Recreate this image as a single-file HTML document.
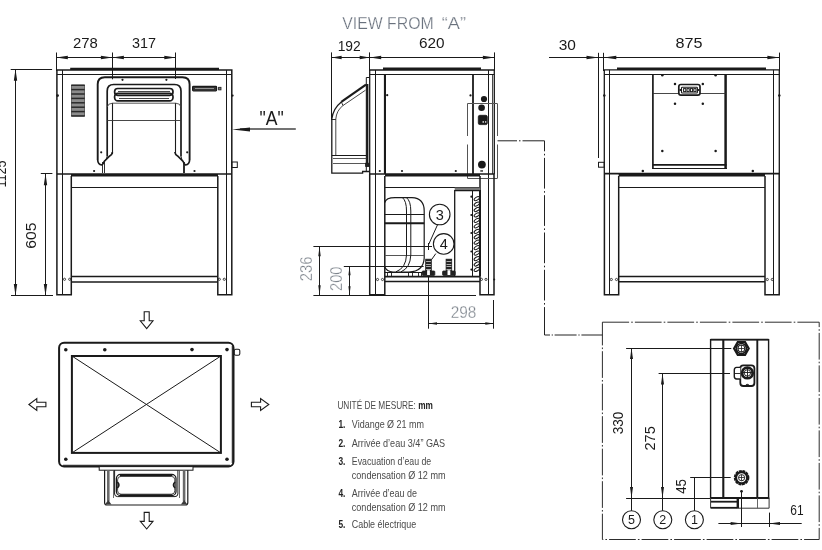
<!DOCTYPE html>
<html><head><meta charset="utf-8"><title>Dimensions</title>
<style>
html,body{margin:0;padding:0;background:#fff;}
body{width:822px;height:550px;overflow:hidden;}
svg{display:block;will-change:transform;}
svg text{font-family:"Liberation Sans",sans-serif;}
</style></head><body>
<svg width="822" height="550" viewBox="0 0 822 550">
<rect width="822" height="550" fill="#fff"/>
<g id="front">
<line x1="56.5" y1="52.5" x2="56.5" y2="71" stroke="#1a1a1a" stroke-width="1" />
<line x1="112.5" y1="52.5" x2="112.5" y2="79.3" stroke="#1a1a1a" stroke-width="1" />
<line x1="175.5" y1="52.5" x2="175.5" y2="79" stroke="#1a1a1a" stroke-width="1" />
<line x1="56.3" y1="57.5" x2="175.8" y2="57.5" stroke="#1a1a1a" stroke-width="1" />
<polygon points="56.3,57.5 67.8,55.8 67.8,59.2" fill="#1a1a1a"/>
<polygon points="112.4,57.5 100.9,59.2 100.9,55.8" fill="#1a1a1a"/>
<polygon points="112.4,57.5 123.9,55.8 123.9,59.2" fill="#1a1a1a"/>
<polygon points="175.8,57.5 164.3,59.2 164.3,55.8" fill="#1a1a1a"/>
<text x="85.3" y="48" font-size="15" fill="#1a1a1a" text-anchor="middle" font-weight="normal" textLength="24.8" lengthAdjust="spacingAndGlyphs" >278</text>
<text x="144" y="48" font-size="15" fill="#1a1a1a" text-anchor="middle" font-weight="normal" textLength="24" lengthAdjust="spacingAndGlyphs" >317</text>
<line x1="70.2" y1="68.9" x2="219" y2="68.9" stroke="#1a1a1a" stroke-width="2.3" />
<path d="M56.9,174 V70.1 H231.8 V174" fill="none" stroke="#1a1a1a" stroke-width="1.5" />
<line x1="56.9" y1="74.5" x2="231.8" y2="74.5" stroke="#1a1a1a" stroke-width="1.1" />
<line x1="62.5" y1="70.1" x2="62.5" y2="294.8" stroke="#1a1a1a" stroke-width="1" />
<line x1="226.5" y1="70.1" x2="226.5" y2="294.8" stroke="#1a1a1a" stroke-width="1" />
<rect x="71.3" y="85.2" width="13.4" height="30.8" rx="0" fill="#8c8c8c" stroke="#333" stroke-width="0.6"/>
<line x1="71.3" y1="85.2" x2="84.7" y2="85.2" stroke="#2a2a2a" stroke-width="1.5" />
<line x1="71.3" y1="89.6" x2="84.7" y2="89.6" stroke="#2a2a2a" stroke-width="1.5" />
<line x1="71.3" y1="94.0" x2="84.7" y2="94.0" stroke="#2a2a2a" stroke-width="1.5" />
<line x1="71.3" y1="98.4" x2="84.7" y2="98.4" stroke="#2a2a2a" stroke-width="1.5" />
<line x1="71.3" y1="102.8" x2="84.7" y2="102.8" stroke="#2a2a2a" stroke-width="1.5" />
<line x1="71.3" y1="107.2" x2="84.7" y2="107.2" stroke="#2a2a2a" stroke-width="1.5" />
<line x1="71.3" y1="111.6" x2="84.7" y2="111.6" stroke="#2a2a2a" stroke-width="1.5" />
<line x1="71.3" y1="116.0" x2="84.7" y2="116.0" stroke="#2a2a2a" stroke-width="1.5" />
<circle cx="57.6" cy="95.6" r="1.4" fill="#1a1a1a"/>
<circle cx="232.6" cy="95.6" r="1.1" fill="#1a1a1a"/>
<path d="M97.7,160 V84.3 Q97.7,77.2 104.8,77.2 H182.5 Q189.6,77.2 189.6,84.3 V160" fill="none" stroke="#1a1a1a" stroke-width="1.9" />
<path d="M97.7,160 Q97.9,164.6 101.8,165 Q103.4,164.4 104.2,161.4 L109.7,156 Q112.2,154.8 112.4,152" fill="none" stroke="#1a1a1a" stroke-width="1.7" />
<path d="M189.6,160 Q189.4,164.6 185.5,165 Q183.9,164.4 183.1,161.4 L177.6,156 Q175.1,154.8 174.9,152" fill="none" stroke="#1a1a1a" stroke-width="1.7" />
<path d="M107.2,156.5 V91 Q107.2,84.5 113.7,84.5 H174.5 Q181,84.5 181,91 V156.5" fill="none" stroke="#1a1a1a" stroke-width="1.7" />
<path d="M107.2,156.5 Q106.5,160 104.4,161.2" fill="none" stroke="#1a1a1a" stroke-width="1" />
<path d="M181,156.5 Q181.7,160 183,161.2" fill="none" stroke="#1a1a1a" stroke-width="1" />
<path d="M107.2,107 Q108,103.3 112.4,103.2 H175.8 Q180.2,103.3 181,107" fill="none" stroke="#444" stroke-width="0.9" />
<line x1="112.5" y1="103.2" x2="112.5" y2="154" stroke="#1a1a1a" stroke-width="1.1" />
<line x1="175.5" y1="103.2" x2="175.5" y2="154" stroke="#1a1a1a" stroke-width="1.1" />
<line x1="107.2" y1="120.5" x2="181" y2="120.5" stroke="#333" stroke-width="0.9" />
<rect x="114.6" y="88.5" width="58.4" height="6.8" rx="3.2" fill="none" stroke="#1a1a1a" stroke-width="1.7"/>
<rect x="114.6" y="93.4" width="58.4" height="7.5" rx="3.4" fill="none" stroke="#1a1a1a" stroke-width="1.7"/>
<line x1="118" y1="91.5" x2="170" y2="91.5" stroke="#333" stroke-width="0.9" />
<line x1="119" y1="98.5" x2="169" y2="98.5" stroke="#444" stroke-width="1" />
<circle cx="122.5" cy="79.8" r="1.1" fill="#1a1a1a"/>
<circle cx="166.4" cy="79.8" r="1.1" fill="#1a1a1a"/>
<rect x="192.6" y="86.4" width="24.0" height="4.4" rx="0.8" fill="#333" stroke="#1a1a1a" stroke-width="1.2"/>
<line x1="195" y1="88.5" x2="214" y2="88.5" stroke="#bbb" stroke-width="0.7" />
<rect x="218.6" y="87.3" width="2.4" height="2.6" rx="0" fill="#777" stroke="#1a1a1a" stroke-width="0.8"/>
<line x1="102.5" y1="162" x2="102.5" y2="173" stroke="#1a1a1a" stroke-width="0.9" />
<line x1="104.5" y1="162" x2="104.5" y2="173" stroke="#1a1a1a" stroke-width="0.9" />
<line x1="183.5" y1="162" x2="183.5" y2="173" stroke="#1a1a1a" stroke-width="0.9" />
<line x1="184.5" y1="162" x2="184.5" y2="173" stroke="#1a1a1a" stroke-width="0.9" />
<rect x="231.8" y="162" width="5.5" height="5.5" rx="0" fill="none" stroke="#1a1a1a" stroke-width="1"/>
<circle cx="101.2" cy="152.3" r="1.1" fill="#1a1a1a"/>
<circle cx="187.2" cy="152.3" r="1.1" fill="#1a1a1a"/>
<circle cx="94.1" cy="171" r="1.1" fill="#1a1a1a"/>
<circle cx="194.5" cy="171" r="1.1" fill="#1a1a1a"/>
<line x1="56.9" y1="174" x2="231.8" y2="174" stroke="#1a1a1a" stroke-width="1.6" />
<line x1="71" y1="175.2" x2="218" y2="175.2" stroke="#1a1a1a" stroke-width="2.6" />
<path d="M56.9,174 V294.8 H71.3 V176" fill="none" stroke="#1a1a1a" stroke-width="1.5" />
<path d="M217.8,176 V294.8 H231.8 V174" fill="none" stroke="#1a1a1a" stroke-width="1.5" />
<line x1="71.3" y1="187.5" x2="217.8" y2="187.5" stroke="#1a1a1a" stroke-width="1.2" />
<line x1="71.3" y1="276.5" x2="217.8" y2="276.5" stroke="#1a1a1a" stroke-width="1.4" />
<line x1="71.3" y1="282" x2="217.8" y2="282" stroke="#1a1a1a" stroke-width="1.4" />
<circle cx="64.5" cy="279.3" r="1.1" fill="none" stroke="#1a1a1a" stroke-width="0.8"/>
<circle cx="69.7" cy="279.3" r="1.1" fill="none" stroke="#1a1a1a" stroke-width="0.8"/>
<circle cx="219.3" cy="279.3" r="1.1" fill="none" stroke="#1a1a1a" stroke-width="0.8"/>
<circle cx="224.3" cy="279.3" r="1.1" fill="none" stroke="#1a1a1a" stroke-width="0.8"/>
</g>
<g id="ldims">
<line x1="10.7" y1="69.5" x2="52.1" y2="69.5" stroke="#1a1a1a" stroke-width="1" />
<line x1="11" y1="295.5" x2="53" y2="295.5" stroke="#1a1a1a" stroke-width="1" />
<line x1="15.5" y1="69.2" x2="15.5" y2="295.4" stroke="#1a1a1a" stroke-width="1" />
<polygon points="15.5,69.2 17.2,80.7 13.8,80.7" fill="#1a1a1a"/>
<polygon points="15.5,295.4 13.8,283.9 17.2,283.9" fill="#1a1a1a"/>
<line x1="40.8" y1="173.5" x2="52.4" y2="173.5" stroke="#1a1a1a" stroke-width="1" />
<line x1="45.5" y1="173.8" x2="45.5" y2="295.4" stroke="#1a1a1a" stroke-width="1" />
<polygon points="45.5,173.8 47.2,185.3 43.8,185.3" fill="#1a1a1a"/>
<polygon points="45.5,295.4 43.8,283.9 47.2,283.9" fill="#1a1a1a"/>
<text x="6.3" y="174" font-size="15" fill="#1a1a1a" text-anchor="middle" font-weight="normal" textLength="27" lengthAdjust="spacingAndGlyphs" transform="rotate(-90 6.3 174)" >1125</text>
<text x="36.5" y="235.6" font-size="15.5" fill="#1a1a1a" text-anchor="middle" font-weight="normal" textLength="26.2" lengthAdjust="spacingAndGlyphs" transform="rotate(-90 36.5 235.6)" >605</text>
</g>
<line x1="240" y1="129" x2="295.8" y2="129" stroke="#444" stroke-width="1.5" />
<polygon points="232,129.5 250.0,127.4 250.0,131.6" fill="#1a1a1a"/>
<text x="271.6" y="124.6" font-size="19.5" fill="#1a1a1a" text-anchor="middle" font-weight="normal" textLength="24.2" lengthAdjust="spacingAndGlyphs" >"A"</text>
<g id="side">
<text x="342.3" y="28.7" font-size="16.3" fill="#69717d" text-anchor="start" font-weight="normal" textLength="91.4" lengthAdjust="spacingAndGlyphs" stroke="#fff" stroke-width="0.25" >VIEW FROM</text>
<text x="441.8" y="28.7" font-size="16.3" fill="#69717d" text-anchor="start" font-weight="normal" textLength="24.2" lengthAdjust="spacingAndGlyphs" stroke="#fff" stroke-width="0.25" >“A”</text>
<line x1="331.5" y1="52.4" x2="331.5" y2="120" stroke="#1a1a1a" stroke-width="1" />
<line x1="369.5" y1="52.4" x2="369.5" y2="71" stroke="#1a1a1a" stroke-width="1" />
<line x1="494.5" y1="52.4" x2="494.5" y2="71" stroke="#1a1a1a" stroke-width="1" />
<line x1="331.6" y1="57.5" x2="494.4" y2="57.5" stroke="#1a1a1a" stroke-width="1" />
<polygon points="331.6,57.5 341.6,55.8 341.6,59.2" fill="#1a1a1a"/>
<polygon points="369.7,57.5 359.7,59.2 359.7,55.8" fill="#1a1a1a"/>
<polygon points="369.7,57.5 381.2,55.8 381.2,59.2" fill="#1a1a1a"/>
<polygon points="494.4,57.5 482.9,59.2 482.9,55.8" fill="#1a1a1a"/>
<text x="349.2" y="50.5" font-size="14.5" fill="#1a1a1a" text-anchor="middle" font-weight="normal" textLength="23.1" lengthAdjust="spacingAndGlyphs" >192</text>
<text x="431.7" y="48.1" font-size="15" fill="#1a1a1a" text-anchor="middle" font-weight="normal" textLength="25.6" lengthAdjust="spacingAndGlyphs" >620</text>
<line x1="383" y1="68.7" x2="481" y2="68.7" stroke="#1a1a1a" stroke-width="2.4" />
<path d="M369.7,174 V70 H494.3 V174" fill="none" stroke="#1a1a1a" stroke-width="1.3" />
<line x1="369.7" y1="74.5" x2="494.3" y2="74.5" stroke="#1a1a1a" stroke-width="1" />
<line x1="375.5" y1="70" x2="375.5" y2="294.8" stroke="#1a1a1a" stroke-width="1" />
<line x1="488.5" y1="70" x2="488.5" y2="294.8" stroke="#1a1a1a" stroke-width="1" />
<line x1="384.5" y1="74.2" x2="384.5" y2="174" stroke="#1a1a1a" stroke-width="1.2" />
<line x1="385.5" y1="74.2" x2="385.5" y2="174" stroke="#1a1a1a" stroke-width="1" />
<line x1="473" y1="74.2" x2="473" y2="174" stroke="#1a1a1a" stroke-width="1.8" />
<line x1="492.5" y1="74" x2="492.5" y2="174" stroke="#1a1a1a" stroke-width="0.8" />
<path d="M369.7,77.5 H366.3 V171.5" fill="none" stroke="#1a1a1a" stroke-width="1" />
<line x1="367.3" y1="84" x2="367.3" y2="164" stroke="#1a1a1a" stroke-width="2.2" />
<path d="M366,84.6 L341.3,101.9" fill="none" stroke="#1a1a1a" stroke-width="2.2" />
<path d="M341.3,101.9 Q333,108.5 331.8,119 V173.1 H362.6 V171.5 H369.7" fill="none" stroke="#1a1a1a" stroke-width="1.3" />
<path d="M365.5,90.2 L343,105.5 Q336.5,110.5 335.8,119 V155.6" fill="none" stroke="#333" stroke-width="0.9" />
<line x1="341.3" y1="101.9" x2="343" y2="105.5" stroke="#1a1a1a" stroke-width="0.9" />
<line x1="331.8" y1="119.5" x2="335.8" y2="119.5" stroke="#1a1a1a" stroke-width="0.9" />
<line x1="331.8" y1="155.5" x2="366.3" y2="155.5" stroke="#1a1a1a" stroke-width="1.2" />
<line x1="333" y1="158.5" x2="366.3" y2="158.5" stroke="#444" stroke-width="0.9" />
<line x1="333" y1="163.5" x2="366.3" y2="163.5" stroke="#444" stroke-width="0.9" />
<rect x="365.6" y="163.2" width="3.6" height="3.4" rx="0" fill="#222" stroke="#1a1a1a" stroke-width="0.8"/>
<circle cx="387.2" cy="95.2" r="1.1" fill="#1a1a1a"/>
<circle cx="470.5" cy="95.4" r="1.1" fill="#1a1a1a"/>
<circle cx="379.8" cy="171" r="1.1" fill="#1a1a1a"/>
<circle cx="402" cy="171" r="1.1" fill="#1a1a1a"/>
<circle cx="455.8" cy="171" r="1.1" fill="#1a1a1a"/>
<circle cx="484" cy="99" r="3.1" fill="#1a1a1a"/>
<circle cx="481.6" cy="107.7" r="3.3" fill="#1a1a1a"/>
<rect x="478.3" y="115.3" width="9.0" height="9.3" rx="1.5" fill="#1a1a1a" stroke="#1a1a1a" stroke-width="0.8"/>
<rect x="482.5" y="121.3" width="1.5" height="1.3" rx="0" fill="#fff" stroke="none" stroke-width="0"/>
<rect x="485" y="121.3" width="1.3" height="1.3" rx="0" fill="#fff" stroke="none" stroke-width="0"/>
<circle cx="481.9" cy="164.6" r="3.9" fill="#1a1a1a"/>
<rect x="480.3" y="170.3" width="2.7" height="1.3" rx="0" fill="#1a1a1a" stroke="none" stroke-width="0"/>
<line x1="467.5" y1="103.5" x2="467.5" y2="136" stroke="#555" stroke-width="1" />
<line x1="467.5" y1="144.5" x2="467.5" y2="178.4" stroke="#555" stroke-width="1" />
<line x1="497.5" y1="103.5" x2="497.5" y2="136" stroke="#555" stroke-width="1" />
<line x1="497.5" y1="144.5" x2="497.5" y2="178.4" stroke="#555" stroke-width="1" />
<line x1="467.5" y1="103.5" x2="497.3" y2="103.5" stroke="#555" stroke-width="1" />
<line x1="467.5" y1="178.5" x2="497.3" y2="178.5" stroke="#555" stroke-width="1" />
<line x1="369.7" y1="174" x2="494.3" y2="174" stroke="#1a1a1a" stroke-width="1.6" />
<line x1="385" y1="175.2" x2="480" y2="175.2" stroke="#1a1a1a" stroke-width="2.6" />
<path d="M369.7,174 V294.8 H384.8 V176" fill="none" stroke="#1a1a1a" stroke-width="1.5" />
<path d="M480,176 V294.8 H494 V174" fill="none" stroke="#1a1a1a" stroke-width="1.5" />
<line x1="384.8" y1="187.5" x2="480" y2="187.5" stroke="#1a1a1a" stroke-width="1.2" />
<line x1="384.8" y1="276.6" x2="480" y2="276.6" stroke="#1a1a1a" stroke-width="1.8" />
<line x1="384.8" y1="281.5" x2="480" y2="281.5" stroke="#1a1a1a" stroke-width="1.3" />
<path d="M384.8,202.5 Q386,197.7 395,197.7 H412 Q424.2,198.2 424.2,211 V258 Q423.5,271.5 409,272 H393 Q386.5,271.5 384.8,267" fill="none" stroke="#1a1a1a" stroke-width="1.2" />
<line x1="384.8" y1="214.5" x2="424.2" y2="214.5" stroke="#1a1a1a" stroke-width="1.1" />
<line x1="384.8" y1="223.2" x2="424.2" y2="223.2" stroke="#1a1a1a" stroke-width="2" />
<line x1="384.8" y1="255.5" x2="424.2" y2="255.5" stroke="#555" stroke-width="1" />
<path d="M402.5,197.7 Q406.5,201 406.5,211 V255 Q406,268 396,271.8" fill="none" stroke="#1a1a1a" stroke-width="1" />
<path d="M406.5,197.7 Q410.8,201 410.8,211 V255 Q410.3,268 401,271.8" fill="none" stroke="#1a1a1a" stroke-width="1" />
<line x1="384.8" y1="272.5" x2="424" y2="272.5" stroke="#1a1a1a" stroke-width="1" />
<line x1="387.5" y1="272.3" x2="387.5" y2="276" stroke="#1a1a1a" stroke-width="0.9" />
<line x1="391.5" y1="272.3" x2="391.5" y2="276" stroke="#1a1a1a" stroke-width="0.9" />
<line x1="408.5" y1="272.3" x2="408.5" y2="276" stroke="#1a1a1a" stroke-width="0.9" />
<line x1="412.5" y1="272.3" x2="412.5" y2="276" stroke="#1a1a1a" stroke-width="0.9" />
<line x1="418.5" y1="272.3" x2="418.5" y2="276" stroke="#1a1a1a" stroke-width="0.9" />
<line x1="421.5" y1="272.3" x2="421.5" y2="276" stroke="#1a1a1a" stroke-width="0.9" />
<rect x="454.7" y="187.5" width="25.3" height="3.1" rx="0" fill="#777" stroke="none" stroke-width="0"/>
<path d="M454.7,276.3 V190.6 H480" fill="none" stroke="#1a1a1a" stroke-width="1.3" />
<line x1="472.5" y1="190.6" x2="472.5" y2="276.3" stroke="#1a1a1a" stroke-width="1" />
<ellipse cx="476.8" cy="198.6" rx="3" ry="1.5" transform="rotate(-32 476.8 198.6)" fill="none" stroke="#1a1a1a" stroke-width="1"/>
<ellipse cx="476.8" cy="204.05" rx="3" ry="1.5" transform="rotate(-32 476.8 204.05)" fill="none" stroke="#1a1a1a" stroke-width="1"/>
<ellipse cx="476.8" cy="209.5" rx="3" ry="1.5" transform="rotate(-32 476.8 209.5)" fill="none" stroke="#1a1a1a" stroke-width="1"/>
<ellipse cx="476.8" cy="214.95" rx="3" ry="1.5" transform="rotate(-32 476.8 214.95)" fill="none" stroke="#1a1a1a" stroke-width="1"/>
<ellipse cx="476.8" cy="220.4" rx="3" ry="1.5" transform="rotate(-32 476.8 220.4)" fill="none" stroke="#1a1a1a" stroke-width="1"/>
<ellipse cx="476.8" cy="225.85" rx="3" ry="1.5" transform="rotate(-32 476.8 225.85)" fill="none" stroke="#1a1a1a" stroke-width="1"/>
<ellipse cx="476.8" cy="231.3" rx="3" ry="1.5" transform="rotate(-32 476.8 231.3)" fill="none" stroke="#1a1a1a" stroke-width="1"/>
<ellipse cx="476.8" cy="236.75" rx="3" ry="1.5" transform="rotate(-32 476.8 236.75)" fill="none" stroke="#1a1a1a" stroke-width="1"/>
<ellipse cx="476.8" cy="242.2" rx="3" ry="1.5" transform="rotate(-32 476.8 242.2)" fill="none" stroke="#1a1a1a" stroke-width="1"/>
<ellipse cx="476.8" cy="247.65" rx="3" ry="1.5" transform="rotate(-32 476.8 247.65)" fill="none" stroke="#1a1a1a" stroke-width="1"/>
<ellipse cx="476.8" cy="253.1" rx="3" ry="1.5" transform="rotate(-32 476.8 253.1)" fill="none" stroke="#1a1a1a" stroke-width="1"/>
<ellipse cx="476.8" cy="258.55" rx="3" ry="1.5" transform="rotate(-32 476.8 258.55)" fill="none" stroke="#1a1a1a" stroke-width="1"/>
<ellipse cx="476.8" cy="264.0" rx="3" ry="1.5" transform="rotate(-32 476.8 264.0)" fill="none" stroke="#1a1a1a" stroke-width="1"/>
<ellipse cx="476.8" cy="269.45" rx="3" ry="1.5" transform="rotate(-32 476.8 269.45)" fill="none" stroke="#1a1a1a" stroke-width="1"/>
<line x1="480" y1="190" x2="480" y2="276" stroke="#1a1a1a" stroke-width="2" />
<circle cx="471.4" cy="196.7" r="1.1" fill="#1a1a1a"/>
<circle cx="471.4" cy="215" r="1.1" fill="#1a1a1a"/>
<circle cx="471.4" cy="233" r="1.1" fill="#1a1a1a"/>
<circle cx="471.4" cy="251.5" r="1.1" fill="#1a1a1a"/>
<circle cx="471.4" cy="269.6" r="1.1" fill="#1a1a1a"/>
<rect x="425.7" y="259.2" width="5.6" height="12.8" rx="0" fill="#222" stroke="#1a1a1a" stroke-width="0.8"/>
<line x1="426.1" y1="261.5" x2="430.9" y2="261.5" stroke="#eee" stroke-width="0.7" />
<line x1="426.1" y1="264.5" x2="430.9" y2="264.5" stroke="#eee" stroke-width="0.7" />
<line x1="426.1" y1="266.5" x2="430.9" y2="266.5" stroke="#eee" stroke-width="0.7" />
<line x1="426.1" y1="269.5" x2="430.9" y2="269.5" stroke="#eee" stroke-width="0.7" />
<rect x="422.2" y="271" width="12.6" height="4.4" rx="0.8" fill="#222" stroke="#1a1a1a" stroke-width="0.8"/>
<rect x="427.1" y="270.2" width="2.8" height="4.8" rx="0" fill="#fff" stroke="none" stroke-width="0"/>
<rect x="446.09999999999997" y="259.2" width="5.6" height="12.8" rx="0" fill="#222" stroke="#1a1a1a" stroke-width="0.8"/>
<line x1="446.5" y1="261.5" x2="451.29999999999995" y2="261.5" stroke="#eee" stroke-width="0.7" />
<line x1="446.5" y1="264.5" x2="451.29999999999995" y2="264.5" stroke="#eee" stroke-width="0.7" />
<line x1="446.5" y1="266.5" x2="451.29999999999995" y2="266.5" stroke="#eee" stroke-width="0.7" />
<line x1="446.5" y1="269.5" x2="451.29999999999995" y2="269.5" stroke="#eee" stroke-width="0.7" />
<rect x="442.59999999999997" y="271" width="12.6" height="4.4" rx="0.8" fill="#222" stroke="#1a1a1a" stroke-width="0.8"/>
<rect x="447.5" y="270.2" width="2.8" height="4.8" rx="0" fill="#fff" stroke="none" stroke-width="0"/>
<line x1="313.4" y1="246.5" x2="432" y2="246.5" stroke="#1a1a1a" stroke-width="1" />
<line x1="428.5" y1="243" x2="428.5" y2="250" stroke="#1a1a1a" stroke-width="1" />
<line x1="343.8" y1="266.5" x2="423.6" y2="266.5" stroke="#1a1a1a" stroke-width="1" />
<line x1="313.4" y1="295.5" x2="476" y2="295.5" stroke="#1a1a1a" stroke-width="1" />
<line x1="319.5" y1="246.3" x2="319.5" y2="295.3" stroke="#1a1a1a" stroke-width="1" />
<polygon points="319.5,246.3 320.7,256.3 318.3,256.3" fill="#1a1a1a"/>
<polygon points="319.5,295.3 318.3,285.3 320.7,285.3" fill="#1a1a1a"/>
<line x1="349.5" y1="266.3" x2="349.5" y2="295.3" stroke="#1a1a1a" stroke-width="1" />
<polygon points="349.5,266.3 350.6,275.3 348.4,275.3" fill="#1a1a1a"/>
<polygon points="349.5,295.3 348.4,286.3 350.6,286.3" fill="#1a1a1a"/>
<text x="312.2" y="268.9" font-size="17" fill="#7c838b" text-anchor="middle" font-weight="normal" textLength="24.6" lengthAdjust="spacingAndGlyphs" transform="rotate(-90 312.2 268.9)" stroke="#fff" stroke-width="0.3" >236</text>
<text x="342" y="278.7" font-size="17" fill="#7c838b" text-anchor="middle" font-weight="normal" textLength="24.4" lengthAdjust="spacingAndGlyphs" transform="rotate(-90 342 278.7)" stroke="#fff" stroke-width="0.3" >200</text>
<line x1="428.5" y1="276" x2="428.5" y2="328.7" stroke="#1a1a1a" stroke-width="1" />
<line x1="493.5" y1="300" x2="493.5" y2="328.7" stroke="#1a1a1a" stroke-width="1" />
<line x1="428.5" y1="323.5" x2="493.8" y2="323.5" stroke="#1a1a1a" stroke-width="1" />
<polygon points="428.5,323.5 437.0,322.2 437.0,324.8" fill="#1a1a1a"/>
<polygon points="493.8,323.5 485.3,324.8 485.3,322.2" fill="#1a1a1a"/>
<text x="463.6" y="317.8" font-size="17" fill="#7c838b" text-anchor="middle" font-weight="normal" textLength="25.6" lengthAdjust="spacingAndGlyphs" stroke="#fff" stroke-width="0.3" >298</text>
<circle cx="439.7" cy="214.5" r="10.3" fill="#fff" stroke="#1a1a1a" stroke-width="1.1"/>
<circle cx="443.7" cy="243.9" r="10.3" fill="#fff" stroke="#1a1a1a" stroke-width="1.1"/>
<text x="439.7" y="219.6" font-size="14.5" fill="#1a1a1a" text-anchor="middle" font-weight="normal" >3</text>
<text x="443.7" y="249" font-size="14.5" fill="#1a1a1a" text-anchor="middle" font-weight="normal" >4</text>
<line x1="437.6" y1="224.6" x2="428.6" y2="244.6" stroke="#1a1a1a" stroke-width="1" />
<line x1="435.8" y1="253.6" x2="431.5" y2="259.7" stroke="#1a1a1a" stroke-width="1" />
<circle cx="377.5" cy="279.5" r="1.1" fill="none" stroke="#1a1a1a" stroke-width="0.8"/>
<circle cx="382.5" cy="279.5" r="1.1" fill="none" stroke="#1a1a1a" stroke-width="0.8"/>
<circle cx="481.4" cy="279.4" r="1.1" fill="none" stroke="#1a1a1a" stroke-width="0.8"/>
<circle cx="486" cy="279.4" r="1.1" fill="none" stroke="#1a1a1a" stroke-width="0.8"/>
<circle cx="494.2" cy="279.4" r="1" fill="#1a1a1a"/>
</g>
<path d="M497.5,140.8 H544.5 V335 H602.5" fill="none" stroke="#222" stroke-width="1" stroke-dasharray="19.5 2 1.5 2 32.5 2.5 1.6 2.5 30.7 2.5 1.6 2.5 30.7 2.5 1.6 2.5 30.7 2.5 1.6 2.5 30.7 2.5 1.6 2.5 33.4 1.7 1.2 1.7 22 1.8 1.2 1.8 40"/>
<g id="rear">
<line x1="549" y1="57.5" x2="779.4" y2="57.5" stroke="#1a1a1a" stroke-width="1" />
<line x1="598.5" y1="52.8" x2="598.5" y2="158" stroke="#1a1a1a" stroke-width="1" />
<line x1="603.5" y1="52.8" x2="603.5" y2="71" stroke="#1a1a1a" stroke-width="1" />
<line x1="779.5" y1="52.6" x2="779.5" y2="71" stroke="#1a1a1a" stroke-width="1" />
<polygon points="598.5,57.5 586.5,59.2 586.5,55.8" fill="#1a1a1a"/>
<polygon points="603.8,57.5 616.3,55.8 616.3,59.2" fill="#1a1a1a"/>
<polygon points="779.4,57.5 767.4,59.2 767.4,55.8" fill="#1a1a1a"/>
<text x="567.3" y="50" font-size="15.5" fill="#1a1a1a" text-anchor="middle" font-weight="normal" textLength="17.2" lengthAdjust="spacingAndGlyphs" >30</text>
<text x="689" y="48.3" font-size="15.5" fill="#1a1a1a" text-anchor="middle" font-weight="normal" textLength="27" lengthAdjust="spacingAndGlyphs" >875</text>
<line x1="617" y1="68.8" x2="766" y2="68.8" stroke="#1a1a1a" stroke-width="2.4" />
<path d="M604.3,174 V69.9 H779.3 V174" fill="none" stroke="#1a1a1a" stroke-width="1.3" />
<line x1="604.3" y1="74.5" x2="779.3" y2="74.5" stroke="#1a1a1a" stroke-width="1" />
<line x1="609.5" y1="69.9" x2="609.5" y2="294.8" stroke="#1a1a1a" stroke-width="1" />
<line x1="773.5" y1="69.9" x2="773.5" y2="294.8" stroke="#1a1a1a" stroke-width="1" />
<line x1="652.9" y1="74.3" x2="652.9" y2="169" stroke="#1a1a1a" stroke-width="1.7" />
<line x1="725.6" y1="74.3" x2="725.6" y2="169" stroke="#1a1a1a" stroke-width="2.5" />
<line x1="652.9" y1="93.5" x2="725.6" y2="93.5" stroke="#333" stroke-width="0.9" />
<line x1="652.9" y1="164.8" x2="726.5" y2="164.8" stroke="#1a1a1a" stroke-width="1.7" />
<line x1="652.9" y1="168.5" x2="727" y2="168.5" stroke="#1a1a1a" stroke-width="1.1" />
<rect x="678.8" y="84.5" width="21.2" height="10.7" rx="2.2" fill="#fff" stroke="#1a1a1a" stroke-width="1.7"/>
<rect x="681.5" y="87.2" width="15.9" height="5.8" rx="0.8" fill="#fff" stroke="#1a1a1a" stroke-width="1.1"/>
<rect x="683.6" y="88.6" width="2.2" height="3.0" rx="0" fill="#fff" stroke="#1a1a1a" stroke-width="1"/>
<rect x="687" y="88.6" width="2.2" height="3.0" rx="0" fill="#fff" stroke="#1a1a1a" stroke-width="1"/>
<rect x="690.4" y="88.6" width="2.2" height="3.0" rx="0" fill="#fff" stroke="#1a1a1a" stroke-width="1"/>
<rect x="693.8" y="88.6" width="2.2" height="3.0" rx="0" fill="#fff" stroke="#1a1a1a" stroke-width="1"/>
<circle cx="680.4" cy="90" r="1.1" fill="#1a1a1a"/>
<circle cx="698.5" cy="90" r="1.1" fill="#1a1a1a"/>
<circle cx="662.3" cy="75.2" r="1.25" fill="#1a1a1a"/>
<circle cx="715.6" cy="75.2" r="1.25" fill="#1a1a1a"/>
<circle cx="675" cy="84" r="1.25" fill="#1a1a1a"/>
<circle cx="702.8" cy="84" r="1.25" fill="#1a1a1a"/>
<circle cx="675" cy="103.8" r="1.25" fill="#1a1a1a"/>
<circle cx="702.8" cy="103.8" r="1.25" fill="#1a1a1a"/>
<circle cx="662.3" cy="151" r="1.25" fill="#1a1a1a"/>
<circle cx="715.6" cy="151" r="1.25" fill="#1a1a1a"/>
<circle cx="642.8" cy="171" r="1.25" fill="#1a1a1a"/>
<circle cx="752.8" cy="171" r="1.25" fill="#1a1a1a"/>
<circle cx="604.3" cy="95.5" r="1.25" fill="#1a1a1a"/>
<circle cx="779.3" cy="95.5" r="1.25" fill="#1a1a1a"/>
<rect x="598.5" y="162.3" width="5.7" height="4.9" rx="0" fill="none" stroke="#1a1a1a" stroke-width="1"/>
<line x1="604.3" y1="173.6" x2="779.3" y2="173.6" stroke="#1a1a1a" stroke-width="1.6" />
<line x1="618.7" y1="175.2" x2="765" y2="175.2" stroke="#1a1a1a" stroke-width="2.6" />
<path d="M604.4,174 V294.8 H618.7 V176" fill="none" stroke="#1a1a1a" stroke-width="1.5" />
<path d="M765,176 V294.8 H779.2 V174" fill="none" stroke="#1a1a1a" stroke-width="1.5" />
<line x1="618.7" y1="187.5" x2="765" y2="187.5" stroke="#1a1a1a" stroke-width="1.2" />
<line x1="618.7" y1="276.5" x2="765" y2="276.5" stroke="#1a1a1a" stroke-width="1.4" />
<line x1="618.7" y1="281.7" x2="765" y2="281.7" stroke="#1a1a1a" stroke-width="1.4" />
<circle cx="611.3" cy="279.5" r="1.1" fill="none" stroke="#1a1a1a" stroke-width="0.8"/>
<circle cx="616.5" cy="279.5" r="1.1" fill="none" stroke="#1a1a1a" stroke-width="0.8"/>
<circle cx="767.3" cy="279.5" r="1.1" fill="none" stroke="#1a1a1a" stroke-width="0.8"/>
<circle cx="772.3" cy="279.5" r="1.1" fill="none" stroke="#1a1a1a" stroke-width="0.8"/>
</g>
<g id="top">
<rect x="59.1" y="342.8" width="174.4" height="123.6" rx="5" fill="none" stroke="#1a1a1a" stroke-width="2"/>
<path d="M232.4,346 V463" fill="none" stroke="#333" stroke-width="1.3" />
<path d="M63,465.3 H230" fill="none" stroke="#333" stroke-width="1.2" />
<rect x="71.9" y="356" width="149.0" height="96.9" rx="0" fill="none" stroke="#1a1a1a" stroke-width="2"/>
<line x1="71.9" y1="356" x2="220.9" y2="452.9" stroke="#1a1a1a" stroke-width="1" />
<line x1="71.9" y1="452.9" x2="220.9" y2="356" stroke="#1a1a1a" stroke-width="1" />
<circle cx="65.8" cy="349.7" r="1.8" fill="#1a1a1a"/>
<circle cx="104.8" cy="349.7" r="1.8" fill="#1a1a1a"/>
<circle cx="192" cy="349.6" r="1.8" fill="#1a1a1a"/>
<circle cx="227" cy="349.6" r="1.8" fill="#1a1a1a"/>
<circle cx="65.8" cy="459.3" r="1.8" fill="#1a1a1a"/>
<circle cx="227" cy="459.3" r="1.8" fill="#1a1a1a"/>
<rect x="234.3" y="349.3" width="5.5" height="5.9" rx="1.5" fill="#fff" stroke="#1a1a1a" stroke-width="1.1"/>
<rect x="99.2" y="466.6" width="93.8" height="3.6" rx="0" fill="#fff" stroke="#1a1a1a" stroke-width="1"/>
<path d="M104.6,470.2 V503 Q104.8,505 107,505 H185.4 Q187.6,505 187.8,503 V470.2" fill="none" stroke="#1a1a1a" stroke-width="1.2" />
<line x1="108.3" y1="470.2" x2="108.3" y2="501.5" stroke="#6a6a6a" stroke-width="2.6" />
<line x1="184.1" y1="470.2" x2="184.1" y2="501.5" stroke="#6a6a6a" stroke-width="2.6" />
<path d="M114.6,470.2 V494 Q114.8,496.6 117.5,496.6 H175 Q177.7,496.6 177.9,494 V470.2" fill="none" stroke="#1a1a1a" stroke-width="1" />
<line x1="113.5" y1="470.2" x2="113.5" y2="498" stroke="#444" stroke-width="0.8" />
<line x1="179.5" y1="470.2" x2="179.5" y2="498" stroke="#444" stroke-width="0.8" />
<polygon points="105,504.6 111.5,504.6 108.2,500" fill="#3a3a3a"/>
<polygon points="187.4,504.6 180.9,504.6 184.2,500" fill="#3a3a3a"/>
<rect x="116.4" y="474.4" width="59.6" height="21.2" rx="4.2" fill="#fff" stroke="#1a1a1a" stroke-width="1.3"/>
<rect x="117.6" y="476.4" width="57.2" height="17.8" rx="3.4" fill="none" stroke="#333" stroke-width="0.9"/>
<line x1="120" y1="475.4" x2="172.4" y2="475.4" stroke="#1a1a1a" stroke-width="1.6" />
<line x1="120" y1="495" x2="172.4" y2="495" stroke="#1a1a1a" stroke-width="1.4" />
<path d="M117.4,482 Q120.5,485 117.4,488" fill="none" stroke="#1a1a1a" stroke-width="1.6" />
<path d="M175,482 Q171.9,485 175,488" fill="none" stroke="#1a1a1a" stroke-width="1.6" />
<polygon points="144.2,311.8 149.2,311.8 149.2,320.8 153,320.8 146.7,328.6 140.3,320.8 144.2,320.8" fill="#fff" stroke="#1a1a1a" stroke-width="1.1"/>
<polygon points="144.2,512.4 149.2,512.4 149.2,521.4 153,521.4 146.7,529 140.3,521.4 144.2,521.4" fill="#fff" stroke="#1a1a1a" stroke-width="1.1"/>
<polygon points="45.9,402.2 45.9,406.7 36.8,406.7 36.8,410.4 28.9,404.5 36.8,398.6 36.8,402.2" fill="#fff" stroke="#1a1a1a" stroke-width="1.1"/>
<polygon points="251.4,402.2 251.4,406.7 260.6,406.7 260.6,410.4 268.8,404.5 260.6,398.6 260.6,402.2" fill="#fff" stroke="#1a1a1a" stroke-width="1.1"/>
</g>
<g id="legend">
<text x="337.4" y="409" font-size="11" fill="#4a4a4a" textLength="95.5" lengthAdjust="spacingAndGlyphs">UNITÉ DE MESURE: <tspan font-weight="bold" fill="#222">mm</tspan></text>
<text x="338.4" y="428" font-size="11" fill="#222" text-anchor="start" font-weight="bold" textLength="7" lengthAdjust="spacingAndGlyphs" >1.</text>
<text x="338.4" y="446.6" font-size="11" fill="#222" text-anchor="start" font-weight="bold" textLength="7" lengthAdjust="spacingAndGlyphs" >2.</text>
<text x="338.4" y="464.6" font-size="11" fill="#222" text-anchor="start" font-weight="bold" textLength="7" lengthAdjust="spacingAndGlyphs" >3.</text>
<text x="338.4" y="496.7" font-size="11" fill="#222" text-anchor="start" font-weight="bold" textLength="7" lengthAdjust="spacingAndGlyphs" >4.</text>
<text x="338.4" y="528.3" font-size="11" fill="#222" text-anchor="start" font-weight="bold" textLength="7" lengthAdjust="spacingAndGlyphs" >5.</text>
<text x="351.8" y="428" font-size="11" fill="#4a4a4a" text-anchor="start" font-weight="normal" textLength="72.3" lengthAdjust="spacingAndGlyphs" >Vidange Ø 21 mm</text>
<text x="351.8" y="446.6" font-size="11" fill="#4a4a4a" text-anchor="start" font-weight="normal" textLength="93.3" lengthAdjust="spacingAndGlyphs" >Arrivée d’eau 3/4” GAS</text>
<text x="351.8" y="464.6" font-size="11" fill="#4a4a4a" text-anchor="start" font-weight="normal" textLength="79.4" lengthAdjust="spacingAndGlyphs" >Evacuation d’eau de</text>
<text x="351.8" y="478.7" font-size="11" fill="#4a4a4a" text-anchor="start" font-weight="normal" textLength="93.7" lengthAdjust="spacingAndGlyphs" >condensation Ø 12 mm</text>
<text x="351.8" y="496.7" font-size="11" fill="#4a4a4a" text-anchor="start" font-weight="normal" textLength="65.2" lengthAdjust="spacingAndGlyphs" >Arrivée d’eau de</text>
<text x="351.8" y="510.6" font-size="11" fill="#4a4a4a" text-anchor="start" font-weight="normal" textLength="93.7" lengthAdjust="spacingAndGlyphs" >condensation Ø 12 mm</text>
<text x="351.8" y="528.3" font-size="11" fill="#4a4a4a" text-anchor="start" font-weight="normal" textLength="64.4" lengthAdjust="spacingAndGlyphs" >Cable électrique</text>
</g>
<g id="detail">
<rect x="602.4" y="322.2" width="216.8" height="217.3" fill="none" stroke="#222" stroke-width="0.95" stroke-dasharray="26.7 2.1 1.6 2.1"/>
<line x1="626.1" y1="348.5" x2="731.3" y2="348.5" stroke="#1a1a1a" stroke-width="1" />
<line x1="631.5" y1="348.1" x2="631.5" y2="511" stroke="#1a1a1a" stroke-width="1" />
<polygon points="631.5,348.1 633.0,359.1 630.0,359.1" fill="#1a1a1a"/>
<polygon points="631.5,498 630.0,487.0 633.0,487.0" fill="#1a1a1a"/>
<line x1="658.6" y1="373.5" x2="730" y2="373.5" stroke="#1a1a1a" stroke-width="1" />
<line x1="662.5" y1="373.5" x2="662.5" y2="511" stroke="#1a1a1a" stroke-width="1" />
<polygon points="662.5,373.5 664.0,384.5 661.0,384.5" fill="#1a1a1a"/>
<polygon points="662.5,498 661.0,487.0 664.0,487.0" fill="#1a1a1a"/>
<line x1="690.2" y1="477.5" x2="730.7" y2="477.5" stroke="#1a1a1a" stroke-width="1" />
<line x1="694.5" y1="477.7" x2="694.5" y2="511" stroke="#1a1a1a" stroke-width="1" />
<path d="M710.6,498 V339.6 H768.6 V498" fill="none" stroke="#1a1a1a" stroke-width="1.4" />
<line x1="710.6" y1="339.6" x2="768.6" y2="339.6" stroke="#1a1a1a" stroke-width="1.9" />
<line x1="723.3" y1="339.6" x2="723.3" y2="498" stroke="#1a1a1a" stroke-width="2.1" />
<line x1="757.3" y1="339.6" x2="757.3" y2="498" stroke="#1a1a1a" stroke-width="1.9" />
<line x1="626.1" y1="498.5" x2="710.6" y2="498.5" stroke="#1a1a1a" stroke-width="1" />
<line x1="710.6" y1="498" x2="769.2" y2="498" stroke="#1a1a1a" stroke-width="2.2" />
<path d="M710.6,498 V508.2 H769.1 V498" fill="none" stroke="#333" stroke-width="1" />
<line x1="711" y1="501.7" x2="737" y2="501.7" stroke="#1a1a1a" stroke-width="1.8" />
<line x1="711" y1="507.6" x2="737" y2="507.6" stroke="#1a1a1a" stroke-width="1.4" />
<line x1="737.8" y1="498" x2="737.8" y2="508.2" stroke="#1a1a1a" stroke-width="2.4" />
<line x1="757.5" y1="498" x2="757.5" y2="508.2" stroke="#555" stroke-width="0.9" />
<polygon points="748.7,348.5 745.05,354.82 737.75,354.82 734.1,348.5 737.75,342.18 745.05,342.18" fill="#fff" stroke="#1a1a1a" stroke-width="2.2"/>
<circle cx="741.4" cy="348.5" r="5.0" fill="#fff" stroke="#1a1a1a" stroke-width="1.7"/>
<circle cx="741.4" cy="348.5" r="3.5" fill="#fff" stroke="#1a1a1a" stroke-width="1"/>
<line x1="737.9" y1="348.5" x2="744.9" y2="348.5" stroke="#1a1a1a" stroke-width="0.8" />
<line x1="741.5" y1="345.0" x2="741.5" y2="352.0" stroke="#1a1a1a" stroke-width="0.8" />
<rect x="740.3" y="365.3" width="14.1" height="20.7" rx="3" fill="#fff" stroke="#1a1a1a" stroke-width="1.8"/>
<path d="M740.3,367.4 H736.6 Q734.3,367.6 734.3,370 V376.4 Q734.3,378.8 736.6,379 H740.3" fill="#fff" stroke="#1a1a1a" stroke-width="1.4" />
<line x1="734.3" y1="373.5" x2="740.3" y2="373.5" stroke="#1a1a1a" stroke-width="0.9" />
<circle cx="747.4" cy="372.9" r="5.3" fill="#fff" stroke="#1a1a1a" stroke-width="2.8"/>
<circle cx="747.4" cy="372.9" r="3.2" fill="#fff" stroke="#1a1a1a" stroke-width="0.9"/>
<line x1="742" y1="372.5" x2="752.8" y2="372.5" stroke="#1a1a1a" stroke-width="0.9" />
<line x1="747.5" y1="367.5" x2="747.5" y2="378.3" stroke="#1a1a1a" stroke-width="0.9" />
<path d="M745.6,386 Q747.4,382.6 749.2,386" fill="none" stroke="#1a1a1a" stroke-width="1.1" />
<circle cx="741.6" cy="477.7" r="6.2" fill="#fff" stroke="#1a1a1a" stroke-width="3.2" stroke-dasharray="2.6 0.65"/>
<circle cx="741.6" cy="477.7" r="5.6" fill="#fff" stroke="#1a1a1a" stroke-width="2.2"/>
<circle cx="741.6" cy="477.7" r="3.1" fill="#fff" stroke="#1a1a1a" stroke-width="0.9"/>
<line x1="738.5" y1="477.5" x2="744.7" y2="477.5" stroke="#1a1a1a" stroke-width="0.8" />
<line x1="741.5" y1="474.6" x2="741.5" y2="480.8" stroke="#1a1a1a" stroke-width="0.8" />
<circle cx="741.5" cy="491.3" r="1.4" fill="#1a1a1a"/>
<text x="622.8" y="422.9" font-size="14.2" fill="#1a1a1a" text-anchor="middle" font-weight="normal" textLength="22.6" lengthAdjust="spacingAndGlyphs" transform="rotate(-90 622.8 422.9)" >330</text>
<text x="654.6" y="438.4" font-size="14.2" fill="#1a1a1a" text-anchor="middle" font-weight="normal" textLength="24.3" lengthAdjust="spacingAndGlyphs" transform="rotate(-90 654.6 438.4)" >275</text>
<text x="686.3" y="486.4" font-size="14.2" fill="#1a1a1a" text-anchor="middle" font-weight="normal" textLength="14.8" lengthAdjust="spacingAndGlyphs" transform="rotate(-90 686.3 486.4)" >45</text>
<circle cx="631.5" cy="519.8" r="9" fill="#fff" stroke="#1a1a1a" stroke-width="1.1"/>
<text x="631.5" y="524.3" font-size="12.5" fill="#1a1a1a" text-anchor="middle" font-weight="normal" >5</text>
<circle cx="662.8" cy="519.8" r="9" fill="#fff" stroke="#1a1a1a" stroke-width="1.1"/>
<text x="662.8" y="524.3" font-size="12.5" fill="#1a1a1a" text-anchor="middle" font-weight="normal" >2</text>
<circle cx="694.4" cy="519.8" r="9" fill="#fff" stroke="#1a1a1a" stroke-width="1.1"/>
<text x="694.4" y="524.3" font-size="12.5" fill="#1a1a1a" text-anchor="middle" font-weight="normal" >1</text>
<line x1="718.4" y1="523.5" x2="801.7" y2="523.5" stroke="#1a1a1a" stroke-width="1" />
<line x1="741.5" y1="492" x2="741.5" y2="527" stroke="#1a1a1a" stroke-width="1" />
<line x1="769.5" y1="512.6" x2="769.5" y2="527" stroke="#1a1a1a" stroke-width="1" />
<polygon points="741.6,523.5 730.6,525.0 730.6,522.0" fill="#1a1a1a"/>
<polygon points="769,523.5 780.0,522.0 780.0,525.0" fill="#1a1a1a"/>
<text x="797" y="515" font-size="14.5" fill="#1a1a1a" text-anchor="middle" font-weight="normal" textLength="13.3" lengthAdjust="spacingAndGlyphs" >61</text>
</g>
</svg>
</body></html>
